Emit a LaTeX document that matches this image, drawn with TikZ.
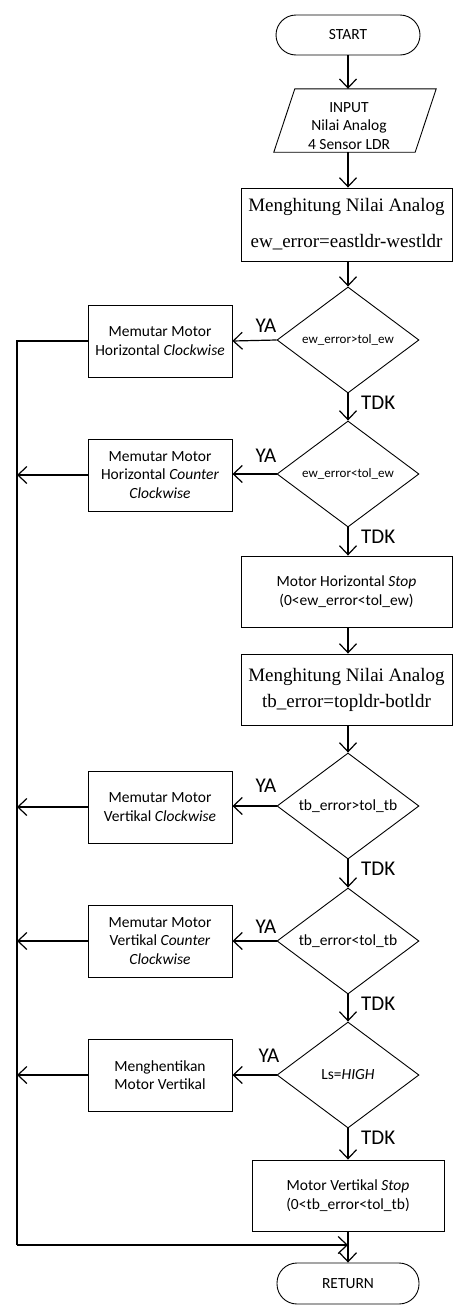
\documentclass[tikz,border=0pt]{standalone}
\usepackage{fontspec}
\setmainfont{Carlito}
\newfontfamily\tmsfont{Liberation Serif}
\usetikzlibrary{arrows.meta,shapes.geometric,calc}
\begin{document}
\begin{tikzpicture}[x=1pt,y=-1pt,
  txt/.style={font=\fontsize{15.5}{18.5}\selectfont},
  shp/.style={draw, line width=0.9pt, align=center, inner sep=0pt, txt},
  procbox/.style={shp, rectangle, minimum width=144pt, minimum height=72pt},
  widebox/.style={shp, rectangle, minimum width=211pt, minimum height=72pt},
  calcbox/.style={widebox, font=\tmsfont\fontsize{19}{22}\selectfont},
  termbox/.style={shp, rectangle, rounded corners=20pt, minimum width=144pt, minimum height=40pt},
  decbox/.style={shp, diamond, aspect=1.34, minimum width=142pt, minimum height=106pt},
  lbl/.style={inner sep=0pt, font=\fontsize{21}{24}\selectfont},
  conn/.style={line width=1.2pt},
  arr/.style={conn, -{Straight Barb[length=9pt,width=17pt]}}
]
\useasboundingbox (0,0) rectangle (453,1312);

% main column
\node[termbox] (s) at (348,35) {START};
\node[inner sep=0pt, minimum width=141pt, minimum height=63pt] (in) at (365.5,120.5) {};
\draw[line width=0.9pt] (in.north west) -- (in.north east) -- ($(in.south east)+(-21,0)$) -- ($(in.south west)+(-21,0)$) -- cycle;
\node[txt, align=center, inner sep=0pt] (intx) at (349,126) {INPUT\\Nilai Analog\\4 Sensor LDR};
\node[calcbox, minimum height=73pt] (b1) at (346.5,224.5) {Menghitung Nilai Analog\\[14pt]ew\_error=eastldr-westldr};
\node[decbox, font=\fontsize{13}{15}\selectfont] (d1) at (348,340) {ew\_error>tol\_ew};
\node[decbox, font=\fontsize{13}{15}\selectfont] (d2) at (348,474) {ew\_error<tol\_ew};
\node[widebox, minimum height=71pt] (b3) at (346.5,591.5) {Motor Horizontal \textit{Stop}\\(0<ew\_error<tol\_ew)};
\node[calcbox, minimum height=71pt] (b4) at (346.5,689.5) {Menghitung Nilai Analog\\[4pt]tb\_error=topldr-botldr};
\node[decbox] (d3) at (348,806) {tb\_error>tol\_tb};
\node[decbox] (d4) at (348,941) {tb\_error<tol\_tb};
\node[decbox] (d5) at (348,1075) {Ls=\textit{HIGH}};
\node[widebox, minimum width=192pt, minimum height=71pt] (b8) at (348,1195.5) {Motor Vertikal \textit{Stop}\\(0<tb\_error<tol\_tb)};
\node[termbox, minimum width=142pt, minimum height=41pt] (r) at (348,1283.5) {RETURN};

% side column
\node[procbox] (h1) at (160,341) {Memutar Motor\\Horizontal \textit{Clockwise}};
\node[procbox] (h2) at (160,475) {Memutar Motor\\Horizontal \textit{Counter}\\\textit{Clockwise}};
\node[procbox] (h3) at (160,807) {Memutar Motor\\Vertikal \textit{Clockwise}};
\node[procbox] (h4) at (160,941) {Memutar Motor\\Vertikal \textit{Counter}\\\textit{Clockwise}};
\node[procbox] (h5) at (160,1075) {Menghentikan\\Motor Vertikal};

% bus coordinates
\coordinate (tl) at (17,341);
\coordinate (bl) at (17,1245);
\coordinate (m) at (348,1245);

% main flow
\draw[arr] (s.south) -- (s.south |- in.north);
\draw[arr] (s.south |- in.south) -- (d1.north |- b1.north);
\draw[arr] (d1.north |- b1.south) -- (d1.north);
\draw[arr] (d1.south) -- (d2.north);
\draw[arr] (d2.south) -- (d2.south |- b3.north);
\draw[arr] (d2.south |- b3.south) -- (d2.south |- b4.north);
\draw[arr] (d3.north |- b4.south) -- (d3.north);
\draw[arr] (d3.south) -- (d4.north);
\draw[arr] (d4.south) -- (d5.north);
\draw[arr] (d5.south) -- (b8.north);
\draw[arr] (b8.south) -- (r.north);

% YA branches
\draw[arr] (d1.west) -- (h1.east);
\draw[arr] (d2.west) -- (d2.west -| h2.east);
\draw[arr] (d3.west) -- (d3.west -| h3.east);
\draw[arr] (d4.west) -- (h4.east);
\draw[arr] (d5.west) -- (h5.east);

% return bus
\draw[conn] (h1.west) -- (tl) -- (bl);
\draw[arr] (bl) -- (m);
\draw[arr] (h2.west) -- (h2.west -| tl);
\draw[arr] (h3.west) -- (h3.west -| tl);
\draw[arr] (h4.west) -- (h4.west -| tl);
\draw[arr] (h5.west) -- (h5.west -| tl);

% labels
\node[lbl, anchor=south east] (ya1) at ($(d1.west)+(0,-7)$) {YA};
\node[lbl, anchor=south east] (ya2) at ($(d2.west)+(0,-11)$) {YA};
\node[lbl, anchor=south east] (ya3) at ($(d3.west)+(0,-13)$) {YA};
\node[lbl, anchor=south east] (ya4) at ($(d4.west)+(0,-7)$) {YA};
\node[lbl, anchor=south east] (ya5) at ($(d5.west)+(3,-12)$) {YA};
\node[lbl, anchor=north west] (t1) at ($(d1.south)+(13,2)$) {TDK};
\node[lbl, anchor=north west] (t2) at ($(d2.south)+(13,2)$) {TDK};
\node[lbl, anchor=north west] (t3) at ($(d3.south)+(13,2)$) {TDK};
\node[lbl, anchor=north west] (t4) at ($(d4.south)+(13,2)$) {TDK};
\node[lbl, anchor=north west] (t5) at ($(d5.south)+(13,2)$) {TDK};
\end{tikzpicture}
\end{document}
